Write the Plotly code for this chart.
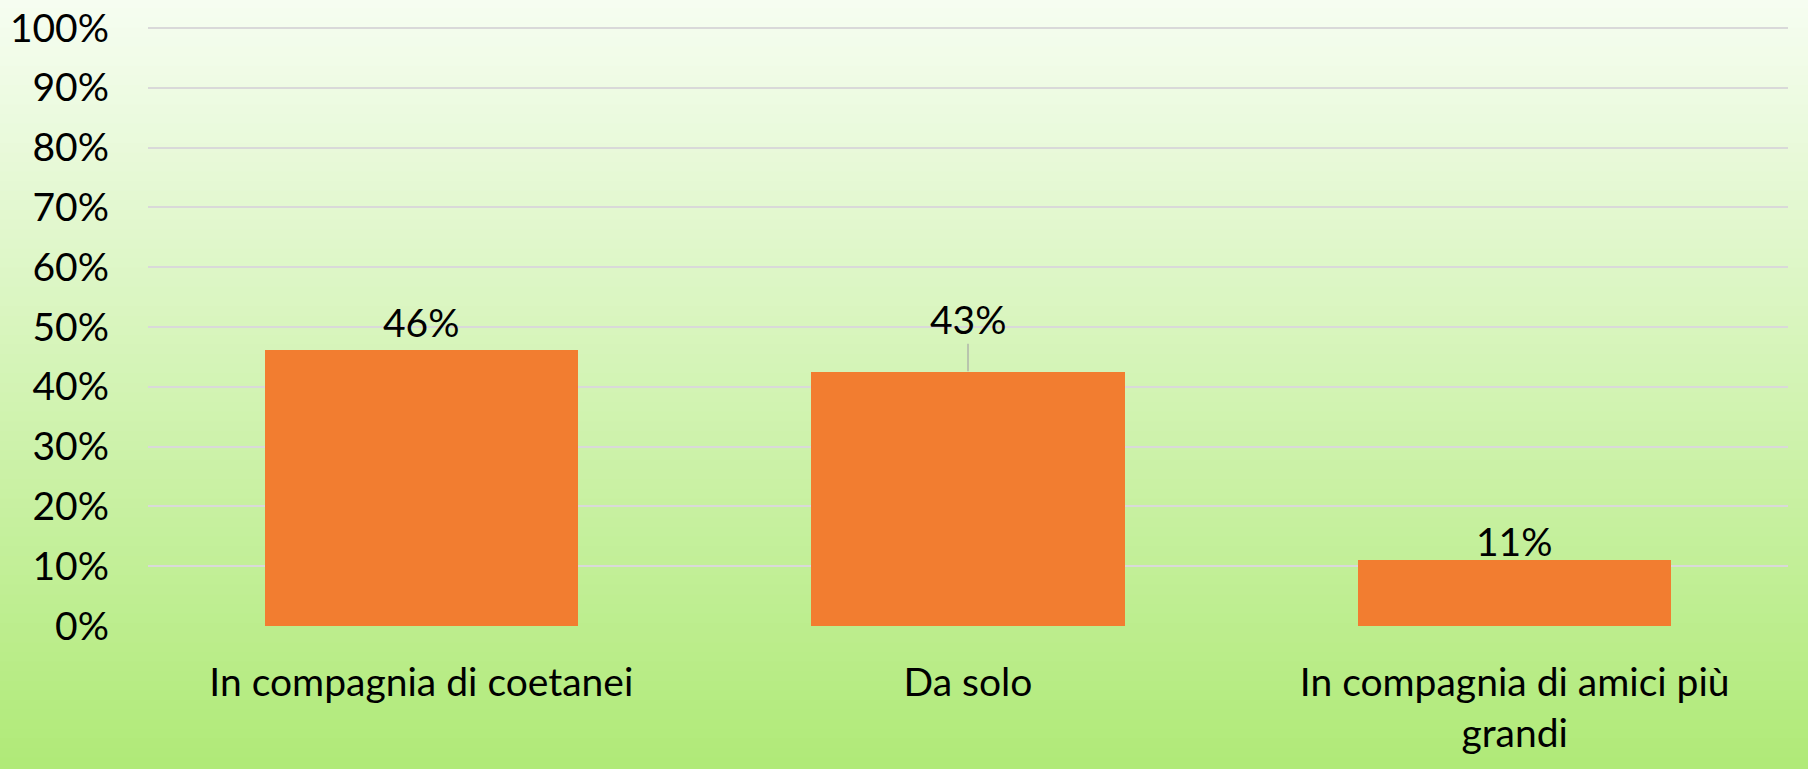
import plotly.graph_objects as go

categories = ["In compagnia di coetanei", "Da solo", "In compagnia di amici più<br>grandi"]
values = [46.3, 42.6, 11.1]
labels = ["46%", "43%", "11%"]
tick_vals = [0, 10, 20, 30, 40, 50, 60, 70, 80, 90, 100]
tick_text = ["0%", "10%", "20%", "30%", "40%", "50%", "60%", "70%", "80%", "90%", "100%"]

W, H = 1808, 769
FONT = "Lato"
FS = 39

fig = go.Figure()
fig.add_trace(go.Bar(
    x=categories, y=values,
    marker=dict(color="#f27d30", line=dict(width=0)),
    width=0.573,
    hoverinfo="skip",
))

# label offsets (px) and leader-line flag — styling only
label_shift = [2, 52, -6]
leader = [False, True, False]
annotations = []
for c, v, t, s, ld in zip(categories, values, labels, label_shift, leader):
    if ld:
        annotations.append(dict(x=c, y=v, xref="x", yref="y", text=t, showarrow=True,
                                ax=0, ay=-s, arrowhead=0, arrowwidth=1.2, arrowcolor="#a6a6a6",
                                font=dict(family=FONT, size=FS, color="black")))
    else:
        annotations.append(dict(x=c, y=v, xref="x", yref="y", text=t, showarrow=False,
                                yanchor="bottom", yshift=s,
                                font=dict(family=FONT, size=FS, color="black")))

# gradient background stripes
top = (246, 253, 241)
bot = (176, 234, 120)
n = 80
shapes = []
for i in range(n):
    f = i / (n - 1)
    col = tuple(round(top[k] + (bot[k] - top[k]) * f) for k in range(3))
    y1 = 1 - i / n
    y0 = 1 - (i + 1) / n
    shapes.append(dict(type="rect", xref="paper", yref="paper", x0=0, x1=1,
                       y0=y0 - 0.002, y1=y1 + 0.002, fillcolor="rgb(%d,%d,%d)" % col,
                       line=dict(width=0), layer="below"))

y_top = 100.4
top_px = 28 - 0.4 / 100 * (626 - 28)

fig.update_layout(
    width=W, height=H,
    margin=dict(l=0, r=0, t=0, b=0, pad=0),
    paper_bgcolor="rgba(0,0,0,0)",
    plot_bgcolor="rgba(0,0,0,0)",
    showlegend=False,
    shapes=shapes,
    annotations=annotations,
    font=dict(family=FONT, size=FS, color="black"),
    xaxis=dict(domain=[148 / W, 1788 / W], showgrid=False, zeroline=False, showline=False,
               automargin=False,
               ticks="", tickfont=dict(family=FONT, size=FS, color="black"),
               ticklabelstandoff=30),
    yaxis=dict(domain=[(H - 626) / H, (H - top_px) / H], range=[0, y_top],
               automargin=False,
               tickvals=tick_vals, ticktext=tick_text, showgrid=True,
               gridcolor="#d9d9d9", gridwidth=2, zeroline=False, showline=False,
               ticks="", tickfont=dict(family=FONT, size=FS, color="black"),
               ticklabelstandoff=38),
    bargap=0,
)

fig.write_html("out.html", config={"responsive": False, "displayModeBar": False},
               post_script="document.body.style.margin='0';document.body.style.overflow='hidden';")
